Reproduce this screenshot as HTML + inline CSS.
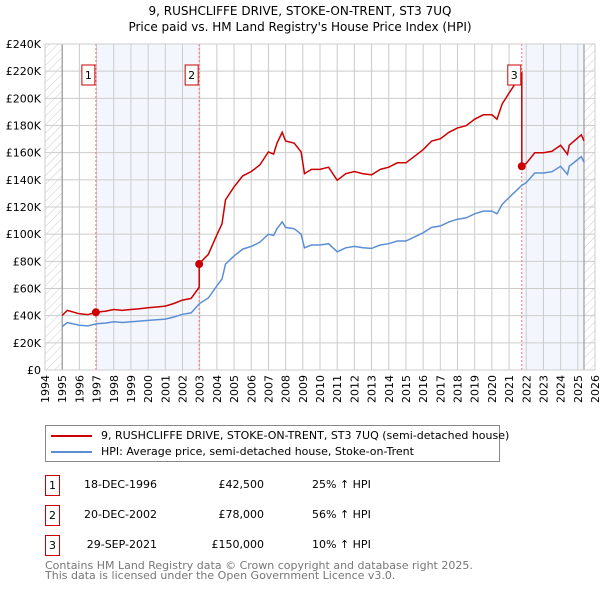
<!DOCTYPE html>
<html><head><meta charset="utf-8"><style>
body{margin:0;width:600px;height:590px;background:#fff;font-family:"DejaVu Sans","Liberation Sans",sans-serif;overflow:hidden;position:relative}
.t{position:absolute;white-space:nowrap;color:#000}
.box{position:absolute;border:1px solid #c00;width:20px;height:18px;text-align:center;font-size:11px;line-height:18px;box-sizing:border-box}
</style></head><body>
<div class="t" style="left:0;width:600px;text-align:center;top:4px;font-size:12px">9, RUSHCLIFFE DRIVE, STOKE-ON-TRENT, ST3 7UQ</div>
<div class="t" style="left:0;width:600px;text-align:center;top:20px;font-size:12px">Price paid vs. HM Land Registry's House Price Index (HPI)</div>
<svg id="chart" width="600" height="420" style="position:absolute;left:0;top:0" font-family="DejaVu Sans, Liberation Sans, sans-serif">
<defs><pattern id="hatch" width="6" height="6" patternUnits="userSpaceOnUse" patternTransform="rotate(45)"><line x1="0" y1="0" x2="0" y2="6" stroke="#ccc" stroke-width="1"/></pattern></defs>
</svg>
<div style="position:absolute;left:45px;top:425px;width:455px;height:37px;border:1px solid #888;box-sizing:border-box">
<div style="position:absolute;left:5px;top:3px;font-size:11px;white-space:nowrap"><span style="display:inline-block;width:41px;height:2px;background:#c00;vertical-align:middle;margin-right:9px"></span>9, RUSHCLIFFE DRIVE, STOKE-ON-TRENT, ST3 7UQ (semi-detached house)</div>
<div style="position:absolute;left:5px;top:19px;font-size:11px;white-space:nowrap"><span style="display:inline-block;width:41px;height:2px;background:#5b8fd4;vertical-align:middle;margin-right:9px"></span>HPI: Average price, semi-detached house, Stoke-on-Trent</div>
</div>
<div id="rows"></div>
<div class="t" style="left:45px;top:559px;font-size:11px;color:#777">Contains HM Land Registry data © Crown copyright and database right 2025.</div>
<div class="t" style="left:45px;top:569px;font-size:11px;color:#777">This data is licensed under the Open Government Licence v3.0.</div>
<script>
const hpiYears=[1995,1995.3,1996,1996.5,1997,1997.5,1998,1998.5,1999,1999.5,2000,2000.5,2001,2001.5,2002,2002.5,2003,2003.5,2004,2004.3,2004.5,2005,2005.5,2006,2006.5,2007,2007.3,2007.5,2007.8,2008,2008.5,2008.9,2009.1,2009.5,2010,2010.5,2011,2011.5,2012,2012.5,2013,2013.5,2014,2014.5,2015,2015.5,2016,2016.5,2017,2017.5,2018,2018.5,2019,2019.5,2020,2020.3,2020.6,2021,2021.5,2021.74,2022,2022.5,2023,2023.5,2024,2024.4,2024.5,2025,2025.2,2025.36];
const hpiValues=[32,35,33,32.5,34,34.5,35.5,35,35.5,36,36.5,37,37.5,39,41,42,49,53,62,67,78,84,89,91,94,100,99,104,109,105,104,100,90,92,92,93,87,90,91,90,89.5,92,93,95,95,98,101,105,106,109,111,112,115,117,117,115,122,127,133,136,138,145,145,146,150,144,150,155,157,153];
const saleLabels=["1","2","3"];
const saleDates=[1996.96,2002.97,2021.74];
const saleDateText=["18-DEC-1996","20-DEC-2002","29-SEP-2021"];
const salePrices=[42500,78000,150000];
const saleDiffText=["25% ↑ HPI","56% ↑ HPI","10% ↑ HPI"];
const yTicks=[0,20,40,60,80,100,120,140,160,180,200,220,240];
const xTicks=[1994,1995,1996,1997,1998,1999,2000,2001,2002,2003,2004,2005,2006,2007,2008,2009,2010,2011,2012,2013,2014,2015,2016,2017,2018,2019,2020,2021,2022,2023,2024,2025,2026];
const dataStart=1995, dataEnd=2025.36;

const X0=45,X1=595,Y0=370,Y1=44;
const x=t=>X0+(t-1994)/32*(X1-X0);
const y=v=>Y0-v/240*(Y0-Y1);
const svg=document.getElementById('chart');
const NS='http://www.w3.org/2000/svg';
function mk(tag,a,parent){const e=document.createElementNS(NS,tag);for(const k in a)e.setAttribute(k,a[k]);(parent||svg).appendChild(e);return e;}
function hpiAt(t){for(let i=0;i<hpiYears.length-1;i++){if(t<=hpiYears[i+1]){const f=(t-hpiYears[i])/(hpiYears[i+1]-hpiYears[i]);return hpiValues[i]+f*(hpiValues[i+1]-hpiValues[i]);}}return hpiValues[hpiValues.length-1];}
let b=mk('rect',{x:x(saleDates[0]),y:Y1,width:x(saleDates[1])-x(saleDates[0]),height:Y0-Y1,fill:'#eef3fc',opacity:0.7});

b=mk('rect',{x:x(saleDates[2]),y:Y1,width:x(dataEnd)-x(saleDates[2]),height:Y0-Y1,fill:'#eef3fc',opacity:0.7});

b=mk('rect',{x:X0,y:Y1,width:x(dataStart)-X0,height:Y0-Y1,fill:'url(#hatch)'});

b=mk('rect',{x:x(dataEnd),y:Y1,width:X1-x(dataEnd),height:Y0-Y1,fill:'url(#hatch)'});

yTicks.forEach(v=>{let l=mk('line',{x1:X0,x2:X1,y1:y(v),y2:y(v),stroke:'#ccc'});

let tx=mk('text',{x:X0-4,y:y(v)+4,'text-anchor':'end','font-size':11});tx.textContent=v===0?'£0':'£'+v+'K';
});
xTicks.forEach(t=>{let l=mk('line',{x1:x(t),x2:x(t),y1:Y1,y2:Y0,stroke:'#ccc'});

let tx=mk('text',{x:0,y:0,'text-anchor':'end','font-size':11,transform:`translate(${x(t)+4},${Y0+5}) rotate(-90)`});tx.textContent=t;
});
mk('line',{x1:x(dataStart),x2:x(dataStart),y1:Y1,y2:Y0,stroke:'#888'});
mk('line',{x1:x(dataEnd),x2:x(dataEnd),y1:Y1,y2:Y0,stroke:'#888'});
saleDates.forEach((d,i)=>{let l=mk('line',{x1:x(d),x2:x(d),y1:Y1,y2:Y0,stroke:'#f07070','stroke-dasharray':'2,2'});
});
let pts=hpiYears.map((t,i)=>x(t).toFixed(1)+','+y(hpiValues[i]).toFixed(1)).join(' ');
let hl=mk('polyline',{points:pts,fill:'none',stroke:'#5b8fd4','stroke-width':1.5});

const ratios=saleDates.map((d,i)=>salePrices[i]/1000/hpiAt(d));
function ratioAt(t){let r=ratios[0];for(let i=0;i<saleDates.length;i++)if(t>=saleDates[i])r=ratios[i];return r;}
let rp=[];let ts=hpiYears.slice();saleDates.forEach(d=>ts.push(d-0.0001,d));ts.sort((a,b)=>a-b);
ts.forEach(t=>rp.push(x(t).toFixed(1)+','+y(hpiAt(t)*ratioAt(t)).toFixed(1)));
let pl=mk('polyline',{points:rp.join(' '),fill:'none',stroke:'#c00','stroke-width':1.5});

saleDates.forEach((d,i)=>{let c=mk('circle',{cx:x(d),cy:y(salePrices[i]/1000),r:4,fill:'#c00'});

let g=mk('g',{});
mk('rect',{x:x(d)-14,y:65,width:13,height:20,fill:'#fff',stroke:'#c00'},g);
let tx=mk('text',{x:x(d)-7.5,y:79,'text-anchor':'middle','font-size':11},g);tx.textContent=saleLabels[i];});
mk('rect',{x:X0,y:Y1,width:X1-X0,height:Y0-Y1,fill:'none',stroke:'#ccc'});
const rows=document.getElementById('rows');
saleLabels.forEach((s,i)=>{const top=475+i*30;
const r=document.createElement('div');
r.innerHTML=`<div class="box" style="left:45px;top:${top}px;width:15px;height:21px;line-height:19px">${s}</div>
<div class="t" style="left:0;width:157px;text-align:right;top:${top+3}px;font-size:11px">${saleDateText[i]}</div>
<div class="t" style="left:0;width:264px;text-align:right;top:${top+3}px;font-size:11px">£${salePrices[i].toLocaleString('en-GB')}</div>
<div class="t" style="left:312px;top:${top+3}px;font-size:11px">${saleDiffText[i]}</div>`;
rows.appendChild(r);});
</script>
</body></html>
